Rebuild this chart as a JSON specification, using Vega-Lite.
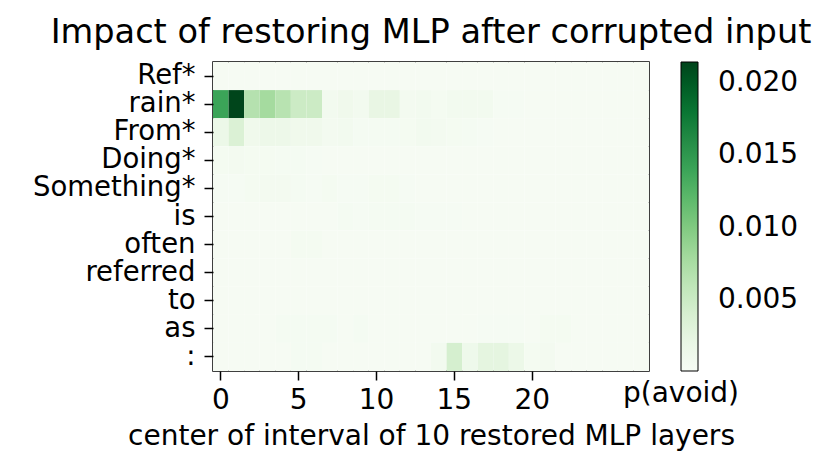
{
"$schema": "https://vega.github.io/schema/vega-lite/v6.json",
"width": 436, "height": 309,
"autosize": "none",
"padding": {"left": 213, "top": 62, "right": 181, "bottom": 105},
"background": "white",
"title": {"text": "Impact of restoring MLP after corrupted input", "fontSize": 33.6, "font": "DejaVu Sans", "fontWeight": "normal", "color": "black", "offset": 12},
"data": {"values": [
{"token":"Ref*","layer":0,"p":0.0003},{"token":"Ref*","layer":1,"p":0.0003},{"token":"Ref*","layer":2,"p":0.0003},{"token":"Ref*","layer":3,"p":0.0003},{"token":"Ref*","layer":4,"p":0.0003},{"token":"Ref*","layer":5,"p":0.0003},{"token":"Ref*","layer":6,"p":0.0003},{"token":"Ref*","layer":7,"p":0.0003},{"token":"Ref*","layer":8,"p":0.0003},{"token":"Ref*","layer":9,"p":0.0003},{"token":"Ref*","layer":10,"p":0.0003},{"token":"Ref*","layer":11,"p":0.0003},{"token":"Ref*","layer":12,"p":0.0003},{"token":"Ref*","layer":13,"p":0.0003},{"token":"Ref*","layer":14,"p":0.0003},{"token":"Ref*","layer":15,"p":0.0003},{"token":"Ref*","layer":16,"p":0.0003},{"token":"Ref*","layer":17,"p":0.0003},{"token":"Ref*","layer":18,"p":0.0003},{"token":"Ref*","layer":19,"p":0.0003},{"token":"Ref*","layer":20,"p":0.0003},{"token":"Ref*","layer":21,"p":0.0003},{"token":"Ref*","layer":22,"p":0.0003},{"token":"Ref*","layer":23,"p":0.0003},{"token":"Ref*","layer":24,"p":0.0003},{"token":"Ref*","layer":25,"p":0.0003},{"token":"Ref*","layer":26,"p":0.0003},{"token":"Ref*","layer":27,"p":0.0003},
{"token":"rain*","layer":0,"p":0.014},{"token":"rain*","layer":1,"p":0.0214},{"token":"rain*","layer":2,"p":0.0067},{"token":"rain*","layer":3,"p":0.0078},{"token":"rain*","layer":4,"p":0.0065},{"token":"rain*","layer":5,"p":0.005},{"token":"rain*","layer":6,"p":0.005},{"token":"rain*","layer":7,"p":0.0008},{"token":"rain*","layer":8,"p":0.0012},{"token":"rain*","layer":9,"p":0.0008},{"token":"rain*","layer":10,"p":0.0022},{"token":"rain*","layer":11,"p":0.0022},{"token":"rain*","layer":12,"p":0.0007},{"token":"rain*","layer":13,"p":0.0009},{"token":"rain*","layer":14,"p":0.0006},{"token":"rain*","layer":15,"p":0.0008},{"token":"rain*","layer":16,"p":0.0008},{"token":"rain*","layer":17,"p":0.0008},{"token":"rain*","layer":18,"p":0.0004},{"token":"rain*","layer":19,"p":0.0004},{"token":"rain*","layer":20,"p":0.0003},{"token":"rain*","layer":21,"p":0.0003},{"token":"rain*","layer":22,"p":0.0003},{"token":"rain*","layer":23,"p":0.0003},{"token":"rain*","layer":24,"p":0.0003},{"token":"rain*","layer":25,"p":0.0003},{"token":"rain*","layer":26,"p":0.0003},{"token":"rain*","layer":27,"p":0.0003},
{"token":"From*","layer":0,"p":0.0018},{"token":"From*","layer":1,"p":0.0037},{"token":"From*","layer":2,"p":0.0012},{"token":"From*","layer":3,"p":0.0016},{"token":"From*","layer":4,"p":0.0016},{"token":"From*","layer":5,"p":0.0012},{"token":"From*","layer":6,"p":0.0012},{"token":"From*","layer":7,"p":0.0007},{"token":"From*","layer":8,"p":0.0009},{"token":"From*","layer":9,"p":0.0005},{"token":"From*","layer":10,"p":0.0005},{"token":"From*","layer":11,"p":0.0005},{"token":"From*","layer":12,"p":0.0006},{"token":"From*","layer":13,"p":0.0008},{"token":"From*","layer":14,"p":0.0007},{"token":"From*","layer":15,"p":0.0006},{"token":"From*","layer":16,"p":0.0005},{"token":"From*","layer":17,"p":0.0004},{"token":"From*","layer":18,"p":0.0003},{"token":"From*","layer":19,"p":0.0003},{"token":"From*","layer":20,"p":0.0003},{"token":"From*","layer":21,"p":0.0003},{"token":"From*","layer":22,"p":0.0003},{"token":"From*","layer":23,"p":0.0003},{"token":"From*","layer":24,"p":0.0003},{"token":"From*","layer":25,"p":0.0003},{"token":"From*","layer":26,"p":0.0003},{"token":"From*","layer":27,"p":0.0003},
{"token":"Doing*","layer":0,"p":0.0006},{"token":"Doing*","layer":1,"p":0.0007},{"token":"Doing*","layer":2,"p":0.0006},{"token":"Doing*","layer":3,"p":0.0006},{"token":"Doing*","layer":4,"p":0.0005},{"token":"Doing*","layer":5,"p":0.0005},{"token":"Doing*","layer":6,"p":0.0004},{"token":"Doing*","layer":7,"p":0.0003},{"token":"Doing*","layer":8,"p":0.0003},{"token":"Doing*","layer":9,"p":0.0003},{"token":"Doing*","layer":10,"p":0.0003},{"token":"Doing*","layer":11,"p":0.0003},{"token":"Doing*","layer":12,"p":0.0003},{"token":"Doing*","layer":13,"p":0.0003},{"token":"Doing*","layer":14,"p":0.0003},{"token":"Doing*","layer":15,"p":0.0003},{"token":"Doing*","layer":16,"p":0.0003},{"token":"Doing*","layer":17,"p":0.0003},{"token":"Doing*","layer":18,"p":0.0003},{"token":"Doing*","layer":19,"p":0.0003},{"token":"Doing*","layer":20,"p":0.0003},{"token":"Doing*","layer":21,"p":0.0003},{"token":"Doing*","layer":22,"p":0.0003},{"token":"Doing*","layer":23,"p":0.0003},{"token":"Doing*","layer":24,"p":0.0003},{"token":"Doing*","layer":25,"p":0.0003},{"token":"Doing*","layer":26,"p":0.0003},{"token":"Doing*","layer":27,"p":0.0003},
{"token":"Something*","layer":0,"p":0.0004},{"token":"Something*","layer":1,"p":0.0004},{"token":"Something*","layer":2,"p":0.0006},{"token":"Something*","layer":3,"p":0.0007},{"token":"Something*","layer":4,"p":0.0007},{"token":"Something*","layer":5,"p":0.0005},{"token":"Something*","layer":6,"p":0.0004},{"token":"Something*","layer":7,"p":0.0006},{"token":"Something*","layer":8,"p":0.0004},{"token":"Something*","layer":9,"p":0.0004},{"token":"Something*","layer":10,"p":0.0006},{"token":"Something*","layer":11,"p":0.0006},{"token":"Something*","layer":12,"p":0.0004},{"token":"Something*","layer":13,"p":0.0003},{"token":"Something*","layer":14,"p":0.0003},{"token":"Something*","layer":15,"p":0.0003},{"token":"Something*","layer":16,"p":0.0003},{"token":"Something*","layer":17,"p":0.0003},{"token":"Something*","layer":18,"p":0.0003},{"token":"Something*","layer":19,"p":0.0003},{"token":"Something*","layer":20,"p":0.0003},{"token":"Something*","layer":21,"p":0.0003},{"token":"Something*","layer":22,"p":0.0003},{"token":"Something*","layer":23,"p":0.0003},{"token":"Something*","layer":24,"p":0.0003},{"token":"Something*","layer":25,"p":0.0003},{"token":"Something*","layer":26,"p":0.0003},{"token":"Something*","layer":27,"p":0.0003},
{"token":"is","layer":0,"p":0.0003},{"token":"is","layer":1,"p":0.0003},{"token":"is","layer":2,"p":0.0003},{"token":"is","layer":3,"p":0.0003},{"token":"is","layer":4,"p":0.0003},{"token":"is","layer":5,"p":0.0003},{"token":"is","layer":6,"p":0.0003},{"token":"is","layer":7,"p":0.0003},{"token":"is","layer":8,"p":0.0005},{"token":"is","layer":9,"p":0.0004},{"token":"is","layer":10,"p":0.0005},{"token":"is","layer":11,"p":0.0005},{"token":"is","layer":12,"p":0.0005},{"token":"is","layer":13,"p":0.0004},{"token":"is","layer":14,"p":0.0004},{"token":"is","layer":15,"p":0.0004},{"token":"is","layer":16,"p":0.0003},{"token":"is","layer":17,"p":0.0003},{"token":"is","layer":18,"p":0.0003},{"token":"is","layer":19,"p":0.0003},{"token":"is","layer":20,"p":0.0003},{"token":"is","layer":21,"p":0.0003},{"token":"is","layer":22,"p":0.0003},{"token":"is","layer":23,"p":0.0003},{"token":"is","layer":24,"p":0.0003},{"token":"is","layer":25,"p":0.0003},{"token":"is","layer":26,"p":0.0003},{"token":"is","layer":27,"p":0.0003},
{"token":"often","layer":0,"p":0.0003},{"token":"often","layer":1,"p":0.0003},{"token":"often","layer":2,"p":0.0003},{"token":"often","layer":3,"p":0.0003},{"token":"often","layer":4,"p":0.0003},{"token":"often","layer":5,"p":0.0006},{"token":"often","layer":6,"p":0.0006},{"token":"often","layer":7,"p":0.0003},{"token":"often","layer":8,"p":0.0003},{"token":"often","layer":9,"p":0.0003},{"token":"often","layer":10,"p":0.0003},{"token":"often","layer":11,"p":0.0003},{"token":"often","layer":12,"p":0.0003},{"token":"often","layer":13,"p":0.0003},{"token":"often","layer":14,"p":0.0003},{"token":"often","layer":15,"p":0.0003},{"token":"often","layer":16,"p":0.0003},{"token":"often","layer":17,"p":0.0003},{"token":"often","layer":18,"p":0.0003},{"token":"often","layer":19,"p":0.0003},{"token":"often","layer":20,"p":0.0003},{"token":"often","layer":21,"p":0.0003},{"token":"often","layer":22,"p":0.0003},{"token":"often","layer":23,"p":0.0003},{"token":"often","layer":24,"p":0.0003},{"token":"often","layer":25,"p":0.0003},{"token":"often","layer":26,"p":0.0003},{"token":"often","layer":27,"p":0.0003},
{"token":"referred","layer":0,"p":0.0003},{"token":"referred","layer":1,"p":0.0003},{"token":"referred","layer":2,"p":0.0003},{"token":"referred","layer":3,"p":0.0003},{"token":"referred","layer":4,"p":0.0003},{"token":"referred","layer":5,"p":0.0003},{"token":"referred","layer":6,"p":0.0003},{"token":"referred","layer":7,"p":0.0003},{"token":"referred","layer":8,"p":0.0003},{"token":"referred","layer":9,"p":0.0003},{"token":"referred","layer":10,"p":0.0003},{"token":"referred","layer":11,"p":0.0003},{"token":"referred","layer":12,"p":0.0003},{"token":"referred","layer":13,"p":0.0003},{"token":"referred","layer":14,"p":0.0003},{"token":"referred","layer":15,"p":0.0003},{"token":"referred","layer":16,"p":0.0003},{"token":"referred","layer":17,"p":0.0003},{"token":"referred","layer":18,"p":0.0003},{"token":"referred","layer":19,"p":0.0003},{"token":"referred","layer":20,"p":0.0003},{"token":"referred","layer":21,"p":0.0003},{"token":"referred","layer":22,"p":0.0003},{"token":"referred","layer":23,"p":0.0003},{"token":"referred","layer":24,"p":0.0003},{"token":"referred","layer":25,"p":0.0003},{"token":"referred","layer":26,"p":0.0003},{"token":"referred","layer":27,"p":0.0003},
{"token":"to","layer":0,"p":0.0003},{"token":"to","layer":1,"p":0.0003},{"token":"to","layer":2,"p":0.0003},{"token":"to","layer":3,"p":0.0003},{"token":"to","layer":4,"p":0.0003},{"token":"to","layer":5,"p":0.0003},{"token":"to","layer":6,"p":0.0003},{"token":"to","layer":7,"p":0.0003},{"token":"to","layer":8,"p":0.0003},{"token":"to","layer":9,"p":0.0003},{"token":"to","layer":10,"p":0.0003},{"token":"to","layer":11,"p":0.0003},{"token":"to","layer":12,"p":0.0003},{"token":"to","layer":13,"p":0.0003},{"token":"to","layer":14,"p":0.0003},{"token":"to","layer":15,"p":0.0003},{"token":"to","layer":16,"p":0.0003},{"token":"to","layer":17,"p":0.0003},{"token":"to","layer":18,"p":0.0003},{"token":"to","layer":19,"p":0.0003},{"token":"to","layer":20,"p":0.0003},{"token":"to","layer":21,"p":0.0003},{"token":"to","layer":22,"p":0.0003},{"token":"to","layer":23,"p":0.0003},{"token":"to","layer":24,"p":0.0003},{"token":"to","layer":25,"p":0.0003},{"token":"to","layer":26,"p":0.0003},{"token":"to","layer":27,"p":0.0003},
{"token":"as","layer":0,"p":0.0003},{"token":"as","layer":1,"p":0.0003},{"token":"as","layer":2,"p":0.0003},{"token":"as","layer":3,"p":0.0003},{"token":"as","layer":4,"p":0.0005},{"token":"as","layer":5,"p":0.0005},{"token":"as","layer":6,"p":0.0005},{"token":"as","layer":7,"p":0.0005},{"token":"as","layer":8,"p":0.0003},{"token":"as","layer":9,"p":0.0005},{"token":"as","layer":10,"p":0.0003},{"token":"as","layer":11,"p":0.0003},{"token":"as","layer":12,"p":0.0003},{"token":"as","layer":13,"p":0.0003},{"token":"as","layer":14,"p":0.0003},{"token":"as","layer":15,"p":0.0003},{"token":"as","layer":16,"p":0.0003},{"token":"as","layer":17,"p":0.0004},{"token":"as","layer":18,"p":0.0004},{"token":"as","layer":19,"p":0.0004},{"token":"as","layer":20,"p":0.0003},{"token":"as","layer":21,"p":0.0006},{"token":"as","layer":22,"p":0.0006},{"token":"as","layer":23,"p":0.0003},{"token":"as","layer":24,"p":0.0003},{"token":"as","layer":25,"p":0.0003},{"token":"as","layer":26,"p":0.0003},{"token":"as","layer":27,"p":0.0003},
{"token":":","layer":0,"p":0.0003},{"token":":","layer":1,"p":0.0003},{"token":":","layer":2,"p":0.0003},{"token":":","layer":3,"p":0.0003},{"token":":","layer":4,"p":0.0003},{"token":":","layer":5,"p":0.0005},{"token":":","layer":6,"p":0.0005},{"token":":","layer":7,"p":0.0003},{"token":":","layer":8,"p":0.0003},{"token":":","layer":9,"p":0.0003},{"token":":","layer":10,"p":0.0003},{"token":":","layer":11,"p":0.0003},{"token":":","layer":12,"p":0.0003},{"token":":","layer":13,"p":0.0003},{"token":":","layer":14,"p":0.0009},{"token":":","layer":15,"p":0.0042},{"token":":","layer":16,"p":0.0014},{"token":":","layer":17,"p":0.0028},{"token":":","layer":18,"p":0.0028},{"token":":","layer":19,"p":0.0018},{"token":":","layer":20,"p":0.0006},{"token":":","layer":21,"p":0.0007},{"token":":","layer":22,"p":0.0003},{"token":":","layer":23,"p":0.0003},{"token":":","layer":24,"p":0.0003},{"token":":","layer":25,"p":0.0003},{"token":":","layer":26,"p":0.0003},{"token":":","layer":27,"p":0.0003}
]},
"mark": {"type": "rect"},
"encoding": {
  "x": {"field": "layer", "type": "ordinal", "scale": {"paddingInner": 0, "paddingOuter": 0},
        "axis": {"values": [0,5,10,15,20], "labelAngle": 0, "title": "center of interval of 10 restored MLP layers", "labelPadding": 6, "titlePadding": 8}},
  "y": {"field": "token", "type": "nominal", "sort": null, "scale": {"paddingInner": 0, "paddingOuter": 0},
        "axis": {"title": null, "labelPadding": 9, "labelFontSize": 27.5}},
  "color": {"field": "p", "type": "quantitative",
        "scale": {"domain": [0.0001, 0.00277, 0.00544, 0.00811, 0.01078, 0.01344, 0.01611, 0.01878, 0.02145],
                  "range": ["#f7fcf5", "#e5f5e0", "#c7e9c0", "#a1d99b", "#74c476", "#41ab5d", "#238b45", "#006d2c", "#00441b"],
                  "interpolate": "rgb"},
        "legend": {"orient": "none", "legendX": 410, "legendY": 0, "direction": "vertical", "gradientLength": 309, "gradientThickness": 17,
                   "gradientStrokeColor": "black", "gradientStrokeWidth": 1, "values": [0.005, 0.01, 0.015, 0.02], "format": ".3f",
                   "labelFontSize": 28, "labelFont": "DejaVu Sans", "labelColor": "black", "labelOffset": 20, "labelLimit": 200,
                   "title": "p(avoid)", "titleOrient": "bottom", "titleFontSize": 28, "titleFont": "DejaVu Sans", "titleFontWeight": "normal", "titleColor": "black",
                   "titleAnchor": "start", "titleAlign": "center", "titlePadding": 8}}
},
"config": {
  "view": {"stroke": "black", "strokeWidth": 1.5},
  "axis": {"labelFont": "DejaVu Sans", "titleFont": "DejaVu Sans", "labelFontSize": 28, "titleFontSize": 28, "titleFontWeight": "normal",
           "labelColor": "black", "titleColor": "black", "domain": false, "tickColor": "black", "tickSize": 9, "tickWidth": 1.5, "grid": false}
}
}
